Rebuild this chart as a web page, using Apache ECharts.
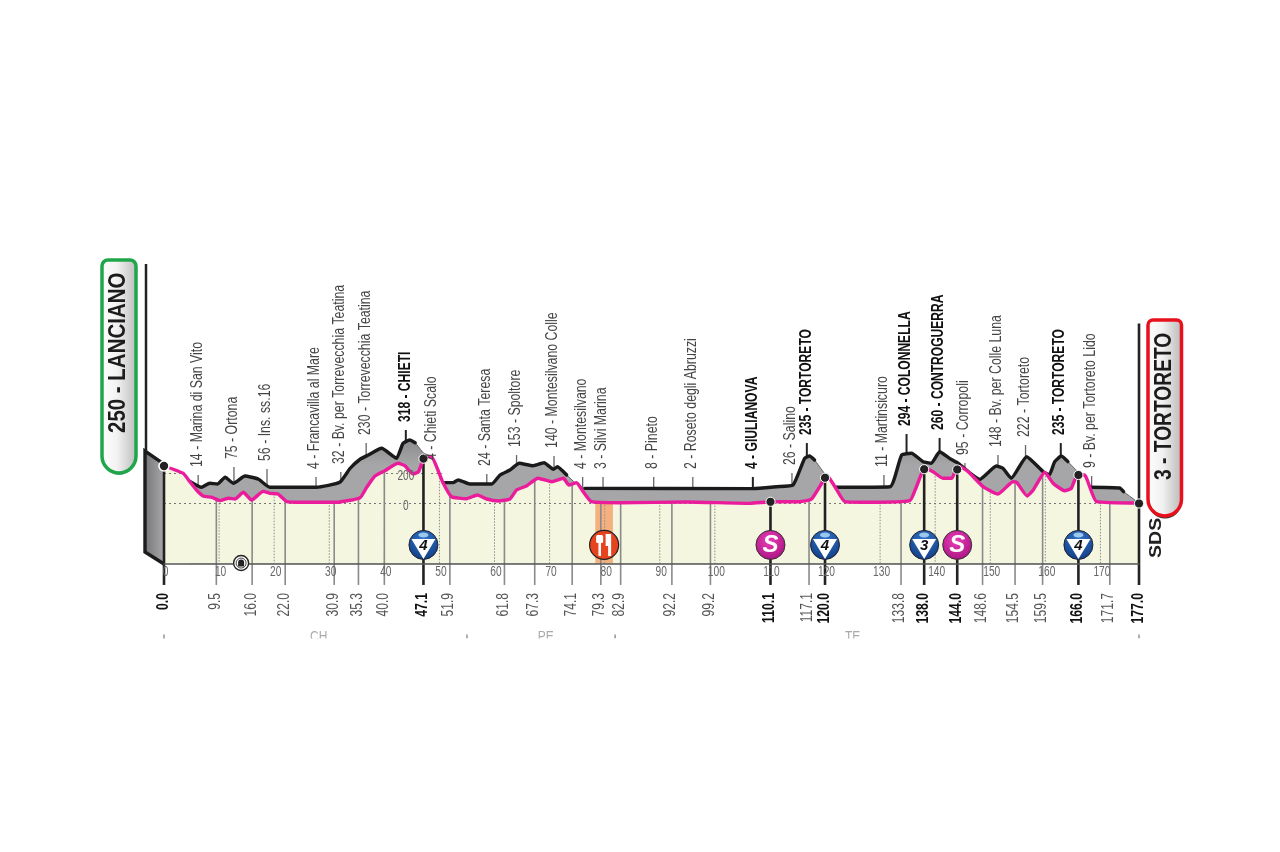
<!DOCTYPE html>
<html><head><meta charset="utf-8">
<style>html,body{margin:0;padding:0;background:#fff}#c{width:1280px;height:852px}</style>
<script src="https://cdn.jsdelivr.net/npm/echarts@6/dist/echarts.min.js"></script>
</head><body><div id="c"></div>
<script>
// ---------- data (km, metres) ----------
const frontProfile=[[0,250],[3.5,201],[4.7,145],[5.9,90],[7.1,50],[8.7,41],[10.2,19],[11.7,35],[12.9,30],[14.4,75],[15.9,23],[18,81],[19.2,68],[20.7,63],[22.3,12],[24.7,8],[31.3,8],[35.6,39],[36.8,108],[38.3,183],[40.1,219],[42.5,268],[43.7,252],[45.2,197],[46.2,212],[47,290],[47.2,308],[48.5,312],[50.7,135],[52.2,45],[54.9,32],[56.9,57],[58.6,30],[60.7,17],[62.8,30],[64,90],[65.8,117],[67.9,168],[70.4,145],[72.5,168],[73.5,123],[74.9,139],[76.1,79],[77.6,12],[82.8,5],[94.9,10],[106.4,1],[110.3,12],[115.4,12],[117.5,28],[119.4,135],[120.3,190],[121.8,112],[123.6,12],[127.5,8],[135.4,19],[136.6,112],[138.1,237],[139.6,212],[141.4,168],[143,168],[143.6,212],[144.5,245],[146,212],[148.7,112],[151.4,63],[154.1,145],[154.8,141],[156.7,50],[157.8,90],[159.9,208],[161.4,135],[163.5,85],[164.7,101],[165.8,190],[167.1,190],[169.3,12],[177,3]];
const backProfile=[[4.7,147],[6.8,108],[8.3,135],[9.7,130],[11.1,175],[12.6,135],[14.7,183],[17.1,163],[19.2,108],[27.7,108],[31.9,141],[33.8,235],[35.6,295],[37.1,323],[39.5,368],[42.2,301],[43.4,401],[44.6,423],[45.6,405],[47.1,337],[48.5,312],[50.7,135],[51,139],[52.5,139],[53.4,157],[55.5,130],[59.5,130],[61,190],[62.8,223],[64.5,268],[67,252],[69,272],[70.7,228],[71.4,245],[73.1,190],[74.6,139],[75.6,115],[76.4,101],[106.9,99],[111.2,112],[114.2,123],[116.3,301],[117.2,317],[118.1,290],[119.9,201],[120.3,190],[121.9,108],[131.8,112],[133.9,323],[135.7,335],[137.8,279],[139.3,268],[140.8,345],[142.6,301],[144.2,268],[146,212],[148.1,161],[151.1,250],[152.3,235],[153.8,168],[156.6,312],[159.6,212],[160.7,190],[161.7,279],[162.9,317],[164.1,279],[165.9,212],[167.1,190],[168,108],[173.5,103],[174.2,79],[177,3]];
const ridgeSpans=[[4.7,45.6],[51,73.1],[76.4,118.1],[121.9,146],[148.1,165],[168,174.2]];
const startWall=[[-3.45,350],[0,263],[0,-403],[-3.45,-323]];
const tickValues=[0,10,20,30,40,50,60,70,80,90,100,110,120,130,140,150,160,170];
const level200Spans=[[0,3.5],[38.5,47],[48.5,50.5]];
const markKm=[0,9.5,16,22,30.9,35.3,40,47.1,51.9,61.8,67.3,74.1,79.3,82.9,92.2,99.2,110.1,117.1,120,133.8,138,144,148.6,154.5,159.5,166,171.7,177];
const markLabels=["0.0","9.5","16.0","22.0","30.9","35.3","40.0","47.1","51.9","61.8","67.3","74.1","79.3","82.9","92.2","99.2","110.1","117.1","120.0","133.8","138.0","144.0","148.6","154.5","159.5","166.0","171.7","177.0"];
const keyKm=[0,47.1,110.1,120,138,144,166,177];
const placeNames=["14 - Marina di San Vito","75 - Ortona","56 - Ins. ss.16","4 - Francavilla al Mare","32 - Bv. per Torrevecchia Teatina","230 - Torrevecchia Teatina","318 - CHIETI","4 - Chieti Scalo","24 - Santa Teresa","153 - Spoltore","140 - Montesilvano Colle","4 - Montesilvano","3 - Silvi Marina","8 - Pineto","2 - Roseto degli Abruzzi","4 - GIULIANOVA","26 - Salino","235 - TORTORETO","11 - Martinsicuro","294 - COLONNELLA","260 - CONTROGUERRA","95 - Corropoli","148 - Bv. per Colle Luna","222 - Tortoreto","235 - TORTORETO","9 - Bv. per Tortoreto Lido"];
const placeKm=[6.2,12.7,18.7,27.6,32.1,36.7,43.9,48.7,58.6,64,70.8,76,79.7,88.9,96,106.9,114,116.7,130.7,134.8,140.8,145.4,151.4,156.4,162.8,168.4];
const placeStemTop=[190,243,230,177,210,403,490,237,197,323,317,177,177,177,177,177,203,403,190,463,437,270,323,390,403,183];
const placeBold=[6,15,17,19,20,24];
const badgeKm=[47.1,79.9,110.1,120,138,144,166];
const badgeKind=["4","food","S","4","3","S","4"];
const foodBand=[78.3,81.5];
const tunnelKm=14;
const regionNames=["CH","PE","TE"];
const regionKm=[28.1,69.3,125];
const regionBounds=[0,55,81.9,177];
const startTitle="250 - LANCIANO";
const finishTitle="3 - TORTORETO";
// ---------- helpers ----------
const NARROW="'Liberation Sans',sans-serif";
const WIDE="'Liberation Sans',sans-serif";
function at(p,k){ if(k<=p[0][0])return p[0][1]; for(let i=1;i<p.length;i++){ if(k<=p[i][0]){const a=p[i-1],b=p[i];return a[1]+(b[1]-a[1])*(k-a[0])/(b[0]-a[0]);}} return p[p.length-1][1];}
const front=k=>at(frontProfile,k), back=k=>at(backProfile,k);
const inSpan=(k,sp)=>sp.some(s=>k>=s[0]&&k<=s[1]);
const ridge=backProfile.map(d=>[d[0],inSpan(d[0],ridgeSpans)?d[1]:'-']);
const L=(a,b,color,w,dash)=>({type:'line',shape:{x1:a[0],y1:a[1],x2:b[0],y2:b[1]},style:{stroke:color,lineWidth:w,lineDash:dash||null}});
const T=(x,y,s,o)=>({type:'text',x,y,rotation:o.rot===undefined?Math.PI/2:o.rot,scaleX:o.sx||1,style:{text:s,fontSize:o.size,fontFamily:o.font||NARROW,fontWeight:o.bold?'bold':'normal',fontStyle:o.italic?'italic':'normal',fill:o.color,align:o.align||'left',verticalAlign:'middle'}});
const custom=(z,fn)=>({type:'custom',coordinateSystem:'cartesian2d',z,silent:true,clip:false,data:[[0,0]],renderItem:(p,api)=>({type:'group',children:fn(api)})});
const Y_DROP=-543;
const SMOOTH=0.15;
function bike(cx,cy,fill,ring){
  return {type:'group',x:cx,y:cy,children:[
    {type:'circle',shape:{r:16.5},style:{fill:ring}},
    {type:'circle',shape:{r:14.5},style:{fill}},
    {type:'circle',shape:{cx:-6,cy:4,r:4.5},style:{fill:'none',stroke:'#fff',lineWidth:2}},
    {type:'circle',shape:{cx:6,cy:4,r:4.5},style:{fill:'none',stroke:'#fff',lineWidth:2}},
    {type:'polyline',shape:{points:[[-6,4],[-2,-3],[4,-5],[6,4]]},style:{fill:'none',stroke:'#fff',lineWidth:2}},
    {type:'polyline',shape:{points:[[-2,-3],[-5,-8],[1,-8],[4,-5]]},style:{fill:'#fff',stroke:'#fff',lineWidth:2}},
    {type:'circle',shape:{cx:1,cy:-10.5,r:2.2},style:{fill:'#fff'}}
  ]};
}
const panel=(stops)=>new echarts.graphic.LinearGradient(0,0,1,0,stops);
// ---------- chart ----------
const chart=echarts.init(document.getElementById('c'),null,{renderer:'canvas'});
chart.setOption({
  animation:false,backgroundColor:'#fff',
  grid:{left:164,width:975,top:263.5,height:300,containLabel:false},
  xAxis:{type:'value',min:0,max:177,interval:10,z:6,
    axisLine:{onZero:false,lineStyle:{color:'#555',width:1.5}},axisTick:{show:false},splitLine:{show:false},
    axisLabel:{show:false}},
  yAxis:{type:'value',min:-400,max:1600,show:false,splitLine:{show:false}},
  graphic:{elements:[
    {type:'rect',shape:{x:102,y:260,width:34,height:213,r:[6,6,17,17]},style:{fill:panel([{offset:0,color:'#fff'},{offset:.45,color:'#f2f2f2'},{offset:1,color:'#b9b9b9'}]),stroke:'#1fa64a',lineWidth:3.5},z:20},
    {type:'text',x:119,y:433,rotation:Math.PI/2,scaleX:.89,style:{text:startTitle,fontSize:23,fontFamily:WIDE,fontWeight:'bold',fill:'#1c1c1c',align:'left',verticalAlign:'middle'},z:21},
    Object.assign(bike(119,458,'#1fa64a','#234'),{z:21}),
    {type:'rect',shape:{x:1148,y:320,width:33.5,height:196,r:[5,5,17,17]},style:{fill:panel([{offset:0,color:'#fff'},{offset:.45,color:'#f0f0f0'},{offset:1,color:'#b5b5b5'}]),stroke:'#e8101c',lineWidth:3.5},z:20},
    {type:'text',x:1165,y:480,rotation:Math.PI/2,scaleX:.835,style:{text:finishTitle,fontSize:23,fontFamily:WIDE,fontWeight:'bold',fill:'#1c1c1c',align:'left',verticalAlign:'middle'},z:21},
    Object.assign(bike(1165,502,'#e6231f','#333'),{z:21}),
    {type:'text',x:1156,y:558,rotation:Math.PI/2,scaleX:1.15,style:{text:'SDS',fontSize:17,fontFamily:WIDE,fontWeight:'bold',fill:'#222',align:'left',verticalAlign:'middle'},z:21},
    {type:'line',shape:{x1:146,y1:264,x2:146,y2:451},style:{stroke:'#222',lineWidth:2.5},z:21}
  ]},
  series:[
    custom(1,api=>{
      const out=[];
      placeKm.forEach((k,i)=>{
        const top=api.coord([k,placeStemTop[i]]), foot=api.coord([k,back(k)]);
        const bold=placeBold.includes(i);
        out.push(L(top,foot,bold?'#222':'#666',bold?2:1.3));
      });
      return out;
    }),
    {type:'line',name:'back',z:2,silent:true,data:backProfile,showSymbol:false,symbol:'none',smooth:SMOOTH,
      lineStyle:{color:'#444',width:.8},
      areaStyle:{origin:'start',opacity:1,color:new echarts.graphic.LinearGradient(0,0,0,1,[{offset:0,color:'#8c8c8e'},{offset:.2,color:'#a6a6a8'},{offset:1,color:'#a6a6a8'}])}},
    {type:'line',name:'ridge',z:3,silent:true,data:ridge,showSymbol:false,symbol:'none',connectNulls:false,smooth:SMOOTH,
      lineStyle:{color:'#1a1a1a',width:3.4,join:'round',cap:'round'}},
    {type:'line',name:'ground',z:4,silent:true,data:frontProfile,showSymbol:false,symbol:'none',smooth:SMOOTH,
      lineStyle:{width:0},areaStyle:{origin:'start',opacity:1,color:'#f4f6df'}},
    custom(5,api=>{
      const out=[];
      const w=startWall.map(d=>api.coord(d));
      out.push({type:'polygon',shape:{points:w},style:{fill:new echarts.graphic.LinearGradient(0,0,1,0,[{offset:0,color:'#77777a'},{offset:1,color:'#a8a8ab'}])}});
      out.push({type:'polyline',shape:{points:[w[1],w[0],w[3],w[2]]},style:{fill:'none',stroke:'#1c1c1c',lineWidth:3.4,join:'round'}});
      const a=api.coord([foodBand[0],front(foodBand[0])]), b=api.coord([foodBand[1],-400]);
      out.push({type:'rect',shape:{x:a[0],y:a[1],width:b[0]-a[0],height:b[1]-a[1]},style:{fill:'#f4b07e'}});
      tickValues.slice(1).forEach(k=>out.push(L(api.coord([k,front(k)]),api.coord([k,-400]),'#8d8d8d',1,[1.5,1.5])));
      out.push(L(api.coord([0,0]),api.coord([177,0]),'#777',1,[2,3]));
      level200Spans.forEach(s=>out.push(L(api.coord([s[0],200]),api.coord([s[1],200]),'#777',1,[2,3])));
      markKm.forEach(k=>{ if(!keyKm.includes(k)) out.push(L(api.coord([k,front(k)]),api.coord([k,Y_DROP]),'#8a8a8a',1.6)); });
      keyKm.forEach(k=>{
        if(k===177) out.push(L(api.coord([k,1200]),api.coord([k,Y_DROP]),'#222',2.6));
        else out.push(L(api.coord([k,front(k)]),api.coord([k,Y_DROP]),'#222',2.6));
      });
      return out;
    }),
    {type:'line',name:'road',z:6,silent:true,data:frontProfile,showSymbol:false,symbol:'none',smooth:SMOOTH,
      lineStyle:{color:'#ea1c9b',width:3.4,join:'round',cap:'round'}},
    custom(7,api=>{
      const out=[];
      keyKm.forEach((k,i)=>{
        const e=k===0?250:(k===177?0:front(k));
        const c=api.coord([k,e]);
        out.push({type:'circle',shape:{cx:c[0],cy:c[1],r:k===0?5:4.6},style:{fill:'#222',stroke:'#fff',lineWidth:k===0?1.6:1}});
      });
      badgeKm.forEach((k,i)=>{
        const c=api.coord([k,-276]), kind=badgeKind[i], ch=[];
        if(kind==='food'){
          ch.push({type:'circle',shape:{r:14.5},style:{fill:'#e8431f',stroke:'#222',lineWidth:1.2}});
          ch.push({type:'rect',shape:{x:-8,y:-10,width:7,height:8,r:1.5},style:{fill:'#fff'}});
          ch.push({type:'rect',shape:{x:-5.7,y:-3,width:2.6,height:14},style:{fill:'#fff'}});
          ch.push({type:'polygon',shape:{points:[[1.5,-11],[7,-11],[7,11],[4,11],[4,1],[1.5,1]]},style:{fill:'#fff'}});
        }else if(kind==='S'){
          ch.push({type:'circle',shape:{r:14.5},style:{fill:new echarts.graphic.RadialGradient(.45,.35,.7,[{offset:0,color:'#ea3fb6'},{offset:1,color:'#a6117f'}]),stroke:'#333',lineWidth:1}});
          ch.push(T(0,0,'S',{rot:0,size:24,font:WIDE,bold:true,italic:true,color:'#fff',align:'center'}));
        }else{
          ch.push({type:'circle',shape:{r:14.5},style:{fill:new echarts.graphic.RadialGradient(.5,.3,.75,[{offset:0,color:'#2f74c8'},{offset:1,color:'#113a80'}]),stroke:'#223',lineWidth:1}});
          ch.push({type:'polygon',shape:{points:[[-12,-6],[12,-6],[0,14]]},style:{fill:'#fff'}});
          ch.push({type:'ellipse',shape:{cx:0,cy:-10,rx:5,ry:2.5},style:{fill:'#9cc8ee'}});
          ch.push(T(0,0.5,kind,{rot:0,size:15,font:WIDE,bold:true,italic:true,color:'#111',align:'center'}));
        }
        out.push({type:'group',x:c[0],y:c[1],children:ch});
      });
      const t=api.coord([tunnelKm,-397]);
      out.push({type:'circle',shape:{cx:t[0],cy:t[1],r:7.5},style:{fill:'#fff',stroke:'#222',lineWidth:1.4}});
      out.push({type:'circle',shape:{cx:t[0],cy:t[1],r:5},style:{fill:'#fff',stroke:'#444',lineWidth:1}});
      out.push({type:'path',shape:{pathData:'M-3 3 L-3 -1 A3 3 0 0 1 3 -1 L3 3 Z',x:t[0]-3,y:t[1]-3.5,width:6,height:7},style:{fill:'#222'}});
      placeKm.forEach((k,i)=>{
        const top=api.coord([k,placeStemTop[i]]), bold=placeBold.includes(i);
        out.push(T(top[0]-1,top[1]-8,placeNames[i],{size:bold?17:16,sx:bold?.71:.77,bold,color:bold?'#111':'#444',font:WIDE}));
      });
      markKm.forEach((k,i)=>{
        const c=api.coord([k,Y_DROP]), bold=keyKm.includes(k);
        out.push(T(c[0]-1,c[1]+8,markLabels[i],{size:bold?17:16,sx:bold?.72:.755,bold,color:bold?'#111':'#555',font:WIDE,align:'right'}));
      });
      tickValues.forEach(k=>{
        const c=api.coord([k,-400]);
        out.push(T(c[0]+1.5,c[1]+8,String(k),{rot:0,size:15,sx:.68,color:'#666',font:WIDE,align:'center'}));
      });
      let a0=api.coord([43.9,-15]), a2=api.coord([43.9,185]);
      out.push(T(a0[0],a0[1],'0',{rot:0,size:14,sx:.72,color:'#666',align:'center'}));
      out.push(T(a2[0],a2[1],'200',{rot:0,size:14,sx:.72,color:'#666',align:'center'}));
      regionNames.forEach((n,i)=>{ const c=api.coord([regionKm[i],-890]); out.push(T(c[0],c[1],n,{rot:0,size:15,sx:.8,color:'#aaa',align:'center'})); });
      regionBounds.forEach(k=>{ const c=api.coord([k,-880]); out.push(L([c[0],c[1]-1],[c[0],c[1]+3],'#999',1.6)); });
      const cov=api.coord([0,-900]);
      out.push({type:'rect',shape:{x:cov[0]+120,y:cov[1],width:900,height:14},style:{fill:'#fff'}});
      return out;
    })
  ]
});
</script></body></html>
